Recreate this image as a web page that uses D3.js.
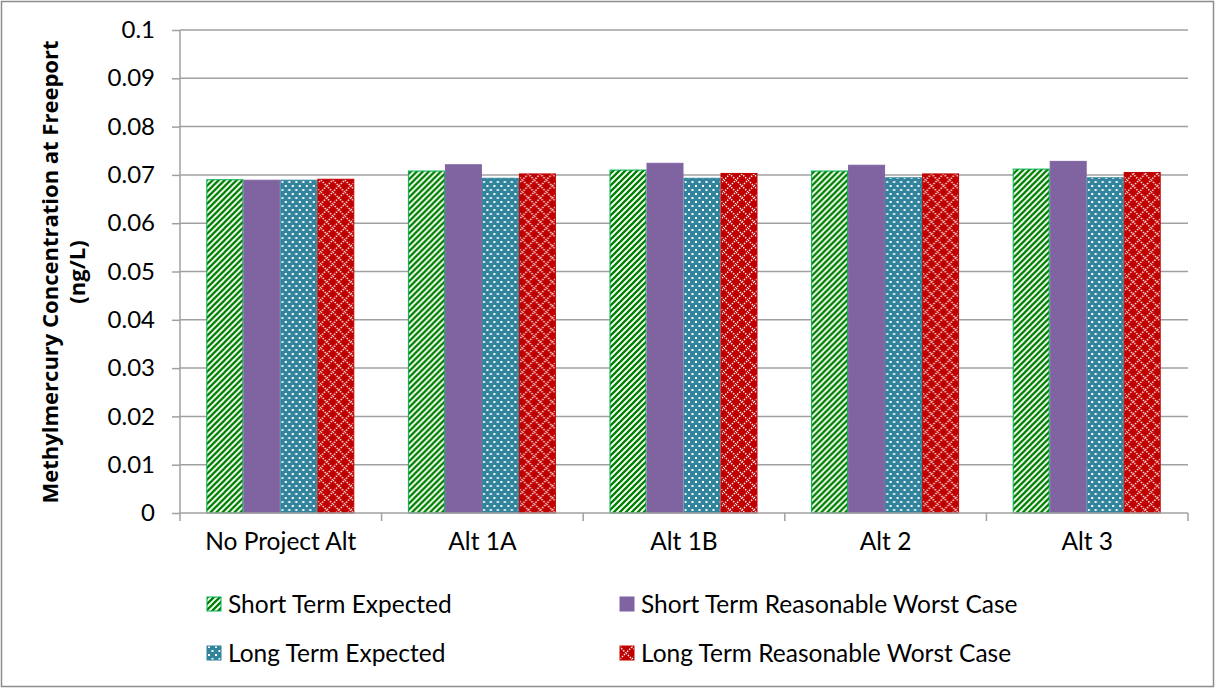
<!DOCTYPE html>
<html><head><meta charset="utf-8">
<script src="https://cdn.jsdelivr.net/npm/d3@7"></script>
<style>body{margin:0;background:#fff}svg{display:block}text{font-family:Lato,"Open Sans",sans-serif}</style>
</head><body><svg id="c" width="1216" height="689"></svg>
<script>
const categories = ["No Project Alt","Alt 1A","Alt 1B","Alt 2","Alt 3"];
const seriesNames = ["Short Term Expected","Short Term Reasonable Worst Case","Long Term Expected","Long Term Reasonable Worst Case"];
const shortExpected = [0.0690,0.0708,0.0710,0.0708,0.0712];
const shortWorst    = [0.0689,0.0721,0.0724,0.0720,0.0728];
const longExpected  = [0.0689,0.0693,0.0693,0.0694,0.0694];
const longWorst     = [0.0691,0.0702,0.0703,0.0702,0.0705];
const yTicks = [0,0.01,0.02,0.03,0.04,0.05,0.06,0.07,0.08,0.09,0.1];
const seriesValues = [shortExpected, shortWorst, longExpected, longWorst];

(function(){
const FS = 24.5;
const svg = d3.select("#c");
const defs = svg.append("defs");
const p1 = defs.append("pattern").attr("id","pGreen").attr("patternUnits","userSpaceOnUse").attr("width",6).attr("height",6);
p1.append("rect").attr("width",6).attr("height",6).attr("fill","#fff");
p1.append("path").attr("d","M-3,3 L3,-3 M0,6 L6,0 M3,9 L9,3").attr("stroke","#008000").attr("stroke-width",2.3);
const p2 = defs.append("pattern").attr("id","pTeal").attr("patternUnits","userSpaceOnUse").attr("width",7).attr("height",8);
p2.append("rect").attr("width",7).attr("height",8).attr("fill","#31849B");
p2.append("rect").attr("x",1).attr("y",1).attr("width",2).attr("height",2).attr("fill","#fff");
p2.append("rect").attr("x",4.5).attr("y",5).attr("width",2).attr("height",2).attr("fill","#fff");
const p3 = defs.append("pattern").attr("id","pRed").attr("patternUnits","userSpaceOnUse").attr("width",12).attr("height",12);
p3.append("rect").attr("width",12).attr("height",12).attr("fill","#C00000");
p3.append("path").attr("d","M0,6 L6,0 L12,6 L6,12 Z").attr("fill","none").attr("stroke","#fff").attr("stroke-width",1.4).attr("stroke-dasharray","1.4,1.4");

const fills = ["url(#pGreen)","#8064A2","url(#pTeal)","url(#pRed)"];
const strokes = ["#00B050","#8064A2","#31849B","#C00000"];

svg.append("rect").attr("x",1.5).attr("y",1.5).attr("width",1212).attr("height",685).attr("fill","#fff").attr("stroke","#8c8c8c").attr("stroke-width",1.5);

const L=180, R=1188, T=30, B=513;
const x = d3.scaleBand().domain(categories).range([L,R]);
const y = d3.scaleLinear().domain([0,0.1]).range([B,T]);
const xs = d3.scaleBand().domain(d3.range(4)).range([0,148]);

svg.append("g").selectAll("line").data(yTicks.slice(1)).join("line")
  .attr("x1",L).attr("x2",R).attr("y1",d=>y(d)).attr("y2",d=>y(d))
  .attr("stroke","#a0a0a0").attr("stroke-width",1.5);

const groups = svg.append("g").selectAll("g").data(categories).join("g")
  .attr("transform",(d)=>`translate(${x(d)+(x.bandwidth()-148)/2},0)`);
groups.selectAll("rect").data((d,i)=>seriesValues.map((s,j)=>({j,v:s[i]}))).join("rect")
  .attr("x",d=>xs(d.j)).attr("width",xs.bandwidth()-1)
  .attr("y",d=>y(d.v)).attr("height",d=>B-y(d.v))
  .attr("fill",d=>fills[d.j]).attr("stroke",d=>strokes[d.j]).attr("stroke-width",1);

const ya = svg.append("g").attr("transform",`translate(${L},0)`)
  .call(d3.axisLeft(y).tickValues(yTicks).tickFormat(d=>String(+d.toFixed(2))).tickSize(8).tickPadding(17));
ya.select(".domain").attr("stroke","#a0a0a0").attr("stroke-width",1.5).attr("d",`M0,${T}V${B}`);
ya.selectAll(".tick line").attr("stroke","#a0a0a0").attr("stroke-width",1.5);
ya.selectAll("text").attr("font-size",24).attr("fill","#000").style("font-family","Lato");

const xa = svg.append("g").attr("transform",`translate(0,${B})`)
  .call(d3.axisBottom(x).tickSize(0).tickPadding(20));
xa.select(".domain").attr("stroke","#a0a0a0").attr("stroke-width",1.5).attr("d",`M${L},0H${R}`);
xa.selectAll("text").attr("font-size",FS).attr("fill","#000").style("font-family","Lato");
svg.append("g").selectAll("line").data(d3.range(categories.length+1)).join("line")
  .attr("x1",i=>L+i*x.bandwidth()).attr("x2",i=>L+i*x.bandwidth())
  .attr("y1",B).attr("y2",B+8).attr("stroke","#a0a0a0").attr("stroke-width",1.5);

const t = svg.append("text").attr("transform","translate(60,272) rotate(-90)")
  .attr("text-anchor","middle").attr("font-size",22).attr("font-weight","bold")
  .style("font-family","'Open Sans'");
t.append("tspan").attr("x",0).attr("dy",-2).text("Methylmercury Concentration at Freeport");
t.append("tspan").attr("x",0).attr("dy",27).text("(ng/L)");

const legPos = [[207,604],[620,604],[207,653],[620,653]];
const lg = svg.append("g").selectAll("g").data(seriesNames).join("g")
  .attr("transform",(d,i)=>`translate(${legPos[i][0]},${legPos[i][1]})`);
lg.append("rect").attr("x",0).attr("y",-7).attr("width",14).attr("height",14)
  .attr("fill",(d,i)=>fills[i]).attr("stroke",(d,i)=>strokes[i]);
lg.append("text").attr("x",21).attr("y",0).attr("dy","0.35em").attr("font-size",FS).text(d=>d);
})();
</script></body></html>
